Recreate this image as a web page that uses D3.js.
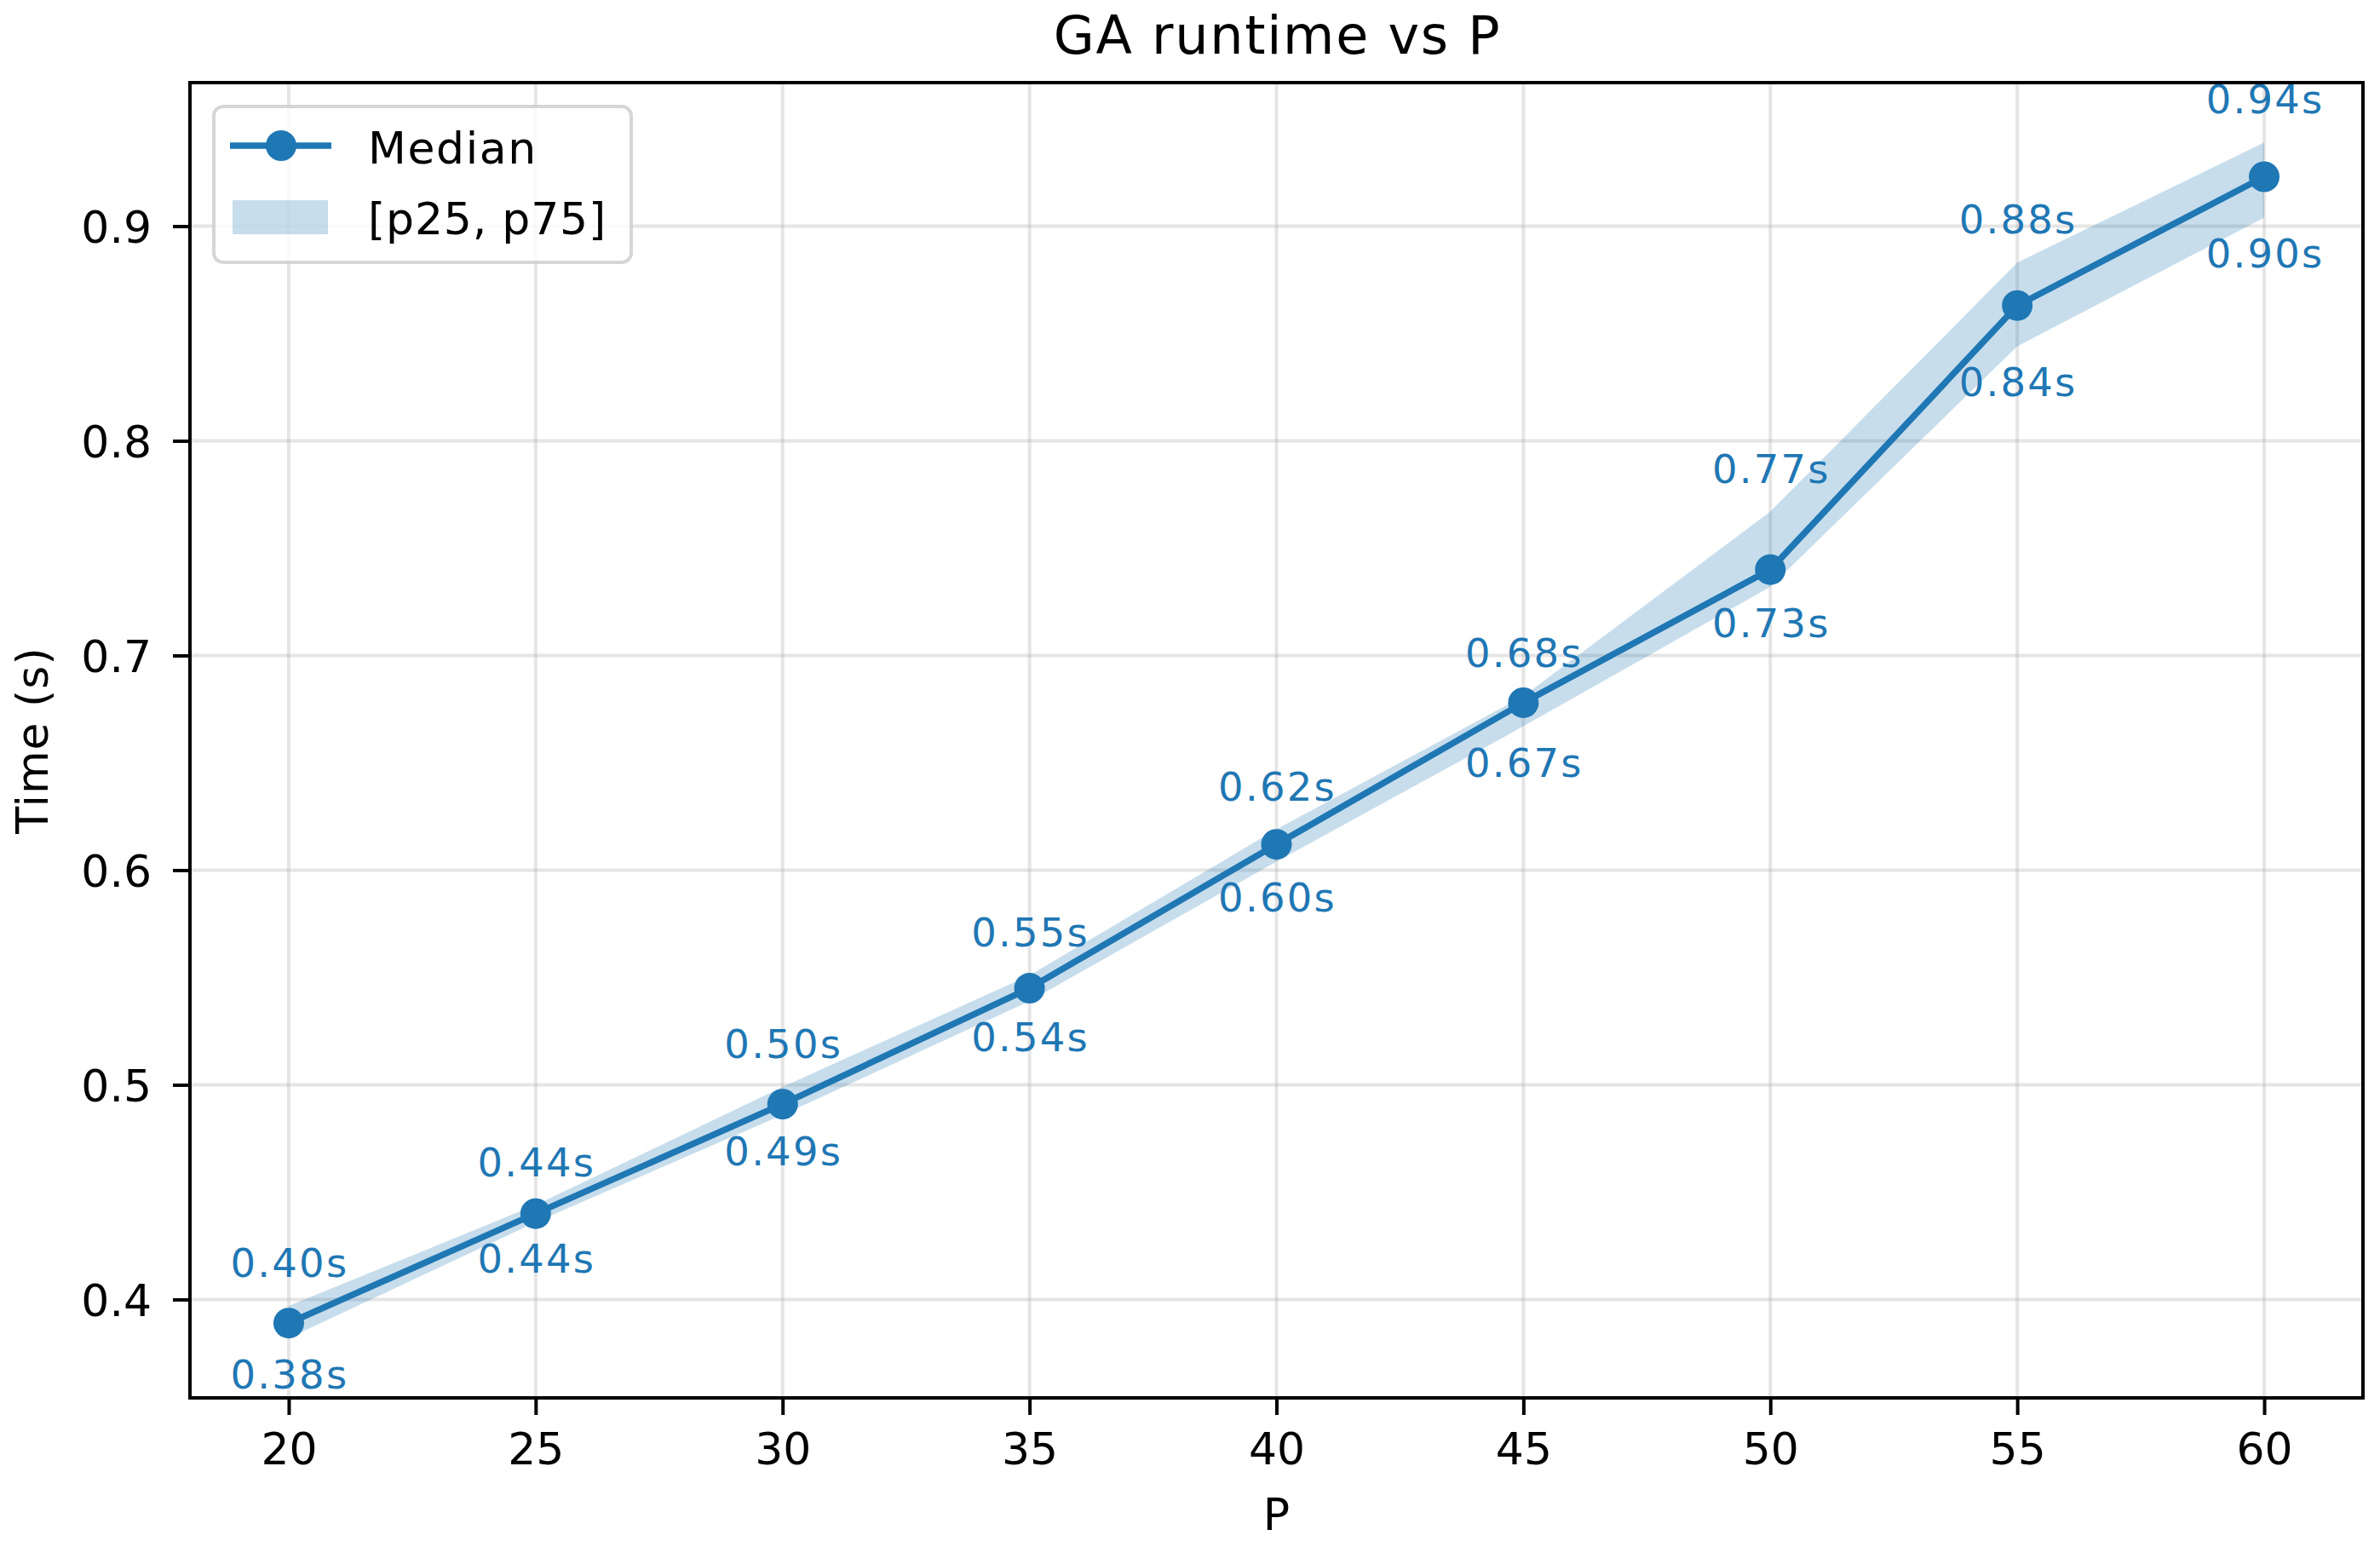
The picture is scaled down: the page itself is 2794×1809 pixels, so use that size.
<!DOCTYPE html>
<html>
<head>
<meta charset="utf-8">
<script src="https://cdn.jsdelivr.net/npm/d3@7"></script>
<style>
  html, body { margin: 0; padding: 0; background: #ffffff; }
  svg { display: block; font-family: "DejaVu Sans", sans-serif; }
</style>
</head>
<body>
<svg id="chart" width="2794" height="1809"></svg>
<script>
// ---- data ----
const pValues = [20, 25, 30, 35, 40, 45, 50, 55, 60];
const medianTime = [0.389, 0.440, 0.491, 0.545, 0.612, 0.678, 0.740, 0.863, 0.923];
const p25Time = [0.382, 0.436, 0.486, 0.539, 0.604, 0.667, 0.732, 0.844, 0.904];
const p75Time = [0.397, 0.444, 0.499, 0.551, 0.619, 0.681, 0.767, 0.883, 0.939];
const xTickValues = [20, 25, 30, 35, 40, 45, 50, 55, 60];
const yTickValues = [0.4, 0.5, 0.6, 0.7, 0.8, 0.9];
const titleText = "GA runtime vs P";
const xLabelText = "P";
const yLabelText = "Time (s)";
const legendLabels = ["Median", "[p25, p75]"];

// ---- layout ----
const W = 2794, H = 1809;
const plot = { left: 223, right: 2774, top: 97, bottom: 1641 };
const color = "#1f77b4";
const tickFont = 52, annotFont = 46.5, titleFont = 62;

const svg = d3.select("#chart");

// matplotlib-like 5% margins
const xMin = d3.min(pValues), xMax = d3.max(pValues);
const xPad = 0.05 * (xMax - xMin);
const yLo = d3.min(p25Time), yHi = d3.max(p75Time);
const yPad = 0.05 * (yHi - yLo);

const x = d3.scaleLinear().domain([xMin - xPad, xMax + xPad]).range([plot.left, plot.right]);
const y = d3.scaleLinear().domain([yLo - yPad, yHi + yPad]).range([plot.bottom, plot.top]);

const rows = pValues.map((p, i) => ({ p, med: medianTime[i], lo: p25Time[i], hi: p75Time[i] }));

// ---- grid ----
const grid = svg.append("g");
grid.selectAll("line.gx").data(xTickValues).join("line")
  .attr("x1", d => x(d)).attr("x2", d => x(d))
  .attr("y1", plot.top).attr("y2", plot.bottom)
  .attr("stroke", "#b0b0b0").attr("stroke-opacity", 0.33).attr("stroke-width", 4);
grid.selectAll("line.gy").data(yTickValues).join("line")
  .attr("x1", plot.left).attr("x2", plot.right)
  .attr("y1", d => y(d)).attr("y2", d => y(d))
  .attr("stroke", "#b0b0b0").attr("stroke-opacity", 0.33).attr("stroke-width", 4);

// ---- band ----
const area = d3.area().x(d => x(d.p)).y0(d => y(d.lo)).y1(d => y(d.hi));
svg.append("path").datum(rows).attr("d", area)
  .attr("fill", color).attr("fill-opacity", 0.25);

// ---- median line ----
const line = d3.line().x(d => x(d.p)).y(d => y(d.med));
svg.append("path").datum(rows).attr("d", line)
  .attr("fill", "none").attr("stroke", color).attr("stroke-width", 7.5)
  .attr("stroke-linejoin", "round").attr("stroke-linecap", "square");

svg.append("g").selectAll("circle").data(rows).join("circle")
  .attr("cx", d => x(d.p)).attr("cy", d => y(d.med)).attr("r", 18)
  .attr("fill", color);

// ---- annotations ----
const annot = svg.append("g").attr("fill", color).attr("font-size", annotFont)
  .attr("text-anchor", "middle").attr("letter-spacing", 2.2);
annot.selectAll("text.hi").data(rows).join("text")
  .attr("x", d => x(d.p) + 1).attr("y", d => y(d.hi) - 34)
  .text(d => d.hi.toFixed(2) + "s");
annot.selectAll("text.lo").data(rows).join("text")
  .attr("x", d => x(d.p) + 1).attr("y", d => y(d.lo) + 25 + 0.729 * annotFont)
  .text(d => d.lo.toFixed(2) + "s");

// ---- axes ----
const xAxis = d3.axisBottom(x).tickValues(xTickValues).tickFormat(d3.format("d"))
  .tickSize(20).tickPadding(22);
const gx = svg.append("g").attr("transform", `translate(0,${plot.bottom})`).call(xAxis);
gx.select(".domain").remove();
gx.selectAll(".tick line").attr("stroke", "#000").attr("stroke-width", 4);
gx.selectAll(".tick text").attr("fill", "#000").attr("font-size", tickFont)
  .attr("font-family", "DejaVu Sans").attr("dy", null).attr("y", 78);

const yAxis = d3.axisLeft(y).tickValues(yTickValues).tickFormat(d3.format(".1f"))
  .tickSize(20).tickPadding(24);
const gy = svg.append("g").attr("transform", `translate(${plot.left},0)`).call(yAxis);
gy.select(".domain").remove();
gy.selectAll(".tick line").attr("stroke", "#000").attr("stroke-width", 4);
gy.selectAll(".tick text").attr("fill", "#000").attr("font-size", tickFont)
  .attr("font-family", "DejaVu Sans").attr("dy", null).attr("y", 0.3645 * tickFont).attr("x", -45);

// frame
svg.append("rect")
  .attr("x", plot.left).attr("y", plot.top)
  .attr("width", plot.right - plot.left).attr("height", plot.bottom - plot.top)
  .attr("fill", "none").attr("stroke", "#000").attr("stroke-width", 4);

// ---- labels ----
svg.append("text").attr("x", (plot.left + plot.right) / 2 + 1).attr("y", 63)
  .attr("text-anchor", "middle").attr("font-size", titleFont).attr("letter-spacing", 1.7)
  .attr("fill", "#000").text(titleText);
svg.append("text").attr("x", (plot.left + plot.right) / 2).attr("y", 1796)
  .attr("text-anchor", "middle").attr("font-size", tickFont).attr("fill", "#000").text(xLabelText);
svg.append("text")
  .attr("transform", `translate(56,${(plot.top + plot.bottom) / 2}) rotate(-90)`)
  .attr("text-anchor", "middle").attr("font-size", tickFont).attr("letter-spacing", 1)
  .attr("fill", "#000").text(yLabelText);

// ---- legend ----
const lg = svg.append("g");
lg.append("rect").attr("x", 251).attr("y", 125).attr("width", 490).attr("height", 183)
  .attr("rx", 11).attr("ry", 11)
  .attr("fill", "#fff").attr("fill-opacity", 0.8)
  .attr("stroke", "#cccccc").attr("stroke-opacity", 0.8).attr("stroke-width", 4);
lg.append("line").attr("x1", 270).attr("x2", 389).attr("y1", 171).attr("y2", 171)
  .attr("stroke", color).attr("stroke-width", 7.5);
lg.append("circle").attr("cx", 330).attr("cy", 171).attr("r", 18).attr("fill", color);
lg.append("rect").attr("x", 273).attr("y", 235).attr("width", 112).attr("height", 40)
  .attr("fill", color).attr("fill-opacity", 0.25);
lg.append("text").attr("x", 432).attr("y", 192).attr("font-size", tickFont)
  .attr("letter-spacing", 1.6).attr("fill", "#000").text(legendLabels[0]);
lg.append("text").attr("x", 432).attr("y", 275).attr("font-size", tickFont)
  .attr("letter-spacing", 0.8).attr("fill", "#000").text(legendLabels[1]);
</script>
</body>
</html>
